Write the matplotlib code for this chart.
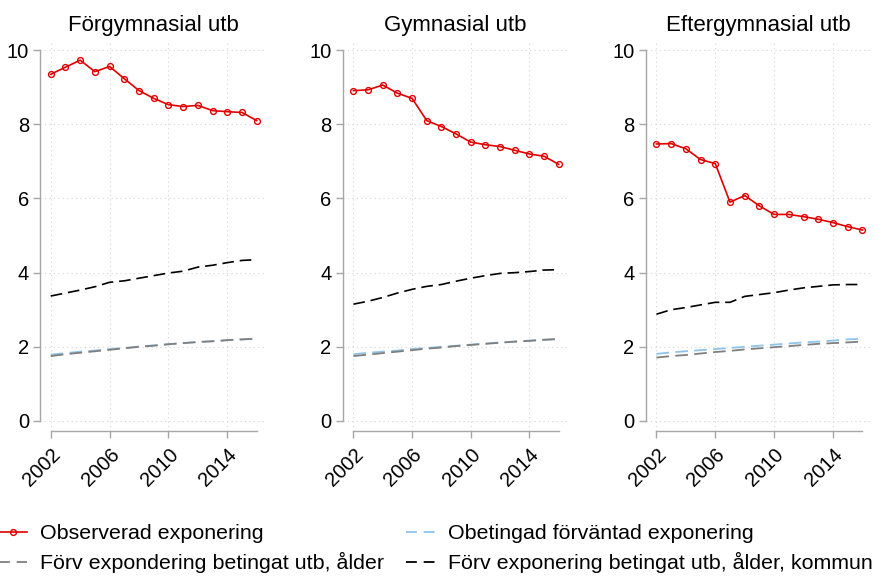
import numpy as np
import matplotlib
matplotlib.use('Agg')
import matplotlib.pyplot as plt
from matplotlib.lines import Line2D

plt.rcParams['font.family'] = ['Liberation Sans', 'DejaVu Sans']

# Data
years = np.arange(2002, 2017)
titles = ['Förgymnasial utb', 'Gymnasial utb', 'Eftergymnasial utb']

observed = [
    [9.35, 9.54, 9.73, 9.42, 9.56, 9.23, 8.91, 8.70, 8.53, 8.48, 8.51, 8.37, 8.34, 8.32, 8.10],
    [8.91, 8.93, 9.06, 8.84, 8.70, 8.10, 7.94, 7.74, 7.52, 7.45, 7.40, 7.30, 7.20, 7.14, 6.92],
    [7.47, 7.48, 7.34, 7.05, 6.94, 5.90, 6.08, 5.80, 5.57, 5.57, 5.51, 5.44, 5.35, 5.24, 5.15],
]
unconditional = [
    [1.79, 1.83, 1.87, 1.90, 1.94, 1.97, 2.01, 2.04, 2.07, 2.10, 2.13, 2.15, 2.18, 2.20, 2.22],
    [1.80, 1.84, 1.87, 1.90, 1.94, 1.97, 2.00, 2.03, 2.06, 2.09, 2.12, 2.14, 2.17, 2.19, 2.21],
    [1.81, 1.85, 1.88, 1.91, 1.94, 1.97, 2.00, 2.03, 2.06, 2.09, 2.12, 2.14, 2.17, 2.20, 2.22],
]
cond_age = [
    [1.75, 1.80, 1.84, 1.88, 1.92, 1.96, 2.00, 2.03, 2.07, 2.10, 2.13, 2.15, 2.18, 2.20, 2.22],
    [1.75, 1.79, 1.83, 1.87, 1.91, 1.95, 1.98, 2.02, 2.05, 2.08, 2.11, 2.14, 2.16, 2.19, 2.21],
    [1.71, 1.75, 1.78, 1.82, 1.86, 1.89, 1.93, 1.96, 1.99, 2.02, 2.05, 2.08, 2.10, 2.12, 2.14],
]
cond_kommun = [
    [3.37, 3.45, 3.53, 3.62, 3.74, 3.78, 3.85, 3.92, 3.99, 4.04, 4.15, 4.20, 4.27, 4.33, 4.35],
    [3.15, 3.23, 3.33, 3.45, 3.55, 3.63, 3.68, 3.77, 3.85, 3.92, 3.98, 4.00, 4.03, 4.07, 4.08],
    [2.88, 3.00, 3.06, 3.13, 3.20, 3.20, 3.36, 3.41, 3.46, 3.53, 3.59, 3.63, 3.67, 3.68, 3.68],
]
labels = ['Observerad exponering', 'Förv expondering betingat utb, ålder',
          'Obetingad förväntad exponering', 'Förv exponering betingat utb, ålder, kommun']

red = '#e00000'
blue = '#8ec4ea'
grey = '#7f7f7f'
axcol = '#a6a6a6'

W, H = 883, 576
fig = plt.figure(figsize=(W / 100, H / 100), dpi=100, facecolor='white')

# axes boxes in pixels: left, right, top, bottom
boxes = [(40, 266, 42, 431), (342.7, 568, 42, 431), (645.7, 871.7, 42, 431)]

for i, (l, r, t, b) in enumerate(boxes):
    ax = fig.add_axes([l / W, 1 - b / H, (r - l) / W, (b - t) / H])
    ax.set_xlim(2001.27, 2016.63)
    ax.set_ylim(-0.27, 10.22)

    ax.plot(years, unconditional[i], color=blue, lw=1.3, dashes=(7, 3.5))
    ax.plot(years, cond_age[i], color=grey, lw=1.3, dashes=(7, 3.5))
    ax.plot(years, cond_kommun[i], color='black', lw=1.2, dashes=(7, 3.5))
    ax.plot(years, observed[i], color=red, lw=1.2, marker='o', ms=4.2,
            mfc='none', mec=red, mew=1.0, zorder=5)

    ax.set_xticks([2002, 2006, 2010, 2014])
    ax.set_yticks([0, 2, 4, 6, 8, 10])
    ax.grid(True, color='#d4d4d4', linestyle=(0, (1, 3)), lw=0.8)
    ax.set_axisbelow(True)
    for s in ['top', 'right']:
        ax.spines[s].set_visible(False)
    ax.spines['left'].set_bounds(0, 10)
    ax.spines['bottom'].set_bounds(2002, 2016)
    for s in ['left', 'bottom']:
        ax.spines[s].set_color(axcol)
        ax.spines[s].set_linewidth(1.0)
    ax.tick_params(colors=axcol, labelcolor='black', labelsize=14.5, length=5, width=1.0, pad=3)
    ax.tick_params(axis='x', pad=5)
    plt.setp(ax.get_xticklabels(), rotation=45, ha='right', rotation_mode='anchor')
    ax.set_title(titles[i], fontsize=16, pad=8)

handles = [
    Line2D([], [], color=red, lw=1.2, marker='o', ms=4.2, mfc='none', mew=1.0),
    Line2D([], [], color=grey, lw=1.3, dashes=(6, 3.8)),
    Line2D([], [], color=blue, lw=1.3, dashes=(6, 3.8)),
    Line2D([], [], color='black', lw=1.3, dashes=(6, 3.8)),
]
fig.legend(handles, labels, ncol=2, loc='upper left', bbox_to_anchor=(-0.002, 1 - 524 / H),
           frameon=False, fontsize=15.4, handlelength=1.35, handletextpad=0.6,
           columnspacing=1.05, borderpad=0, borderaxespad=0, labelspacing=0.42)

plt.savefig('out.png', dpi=100, facecolor='white')
